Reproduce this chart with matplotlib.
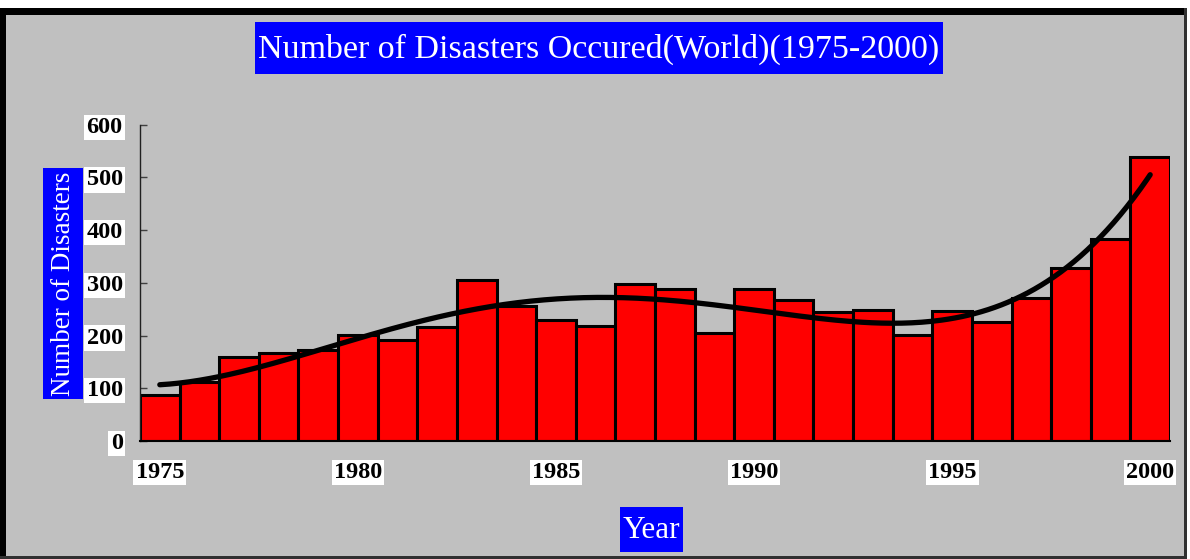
import numpy as np
import matplotlib
matplotlib.use("Agg")
import matplotlib.pyplot as plt
from matplotlib.patches import Rectangle

# ---- data ----
years = list(range(1975, 2001))
disasters = [87, 111, 159, 167, 172, 201, 192, 216, 305, 257,
             230, 219, 297, 289, 204, 289, 267, 245, 249, 201,
             247, 226, 272, 329, 383, 538]
yticks = [0, 100, 200, 300, 400, 500, 600]
xtick_years = [1975, 1980, 1985, 1990, 1995, 2000]
title = "Number of Disasters Occured(World)(1975-2000)"
ylabel = "Number of Disasters"
xlabel = "Year"
trend_degree = 4

W, H = 1190, 559
GRAY = "#C0C0C0"
BLUE = "#0000FF"
SERIF = ["Liberation Serif", "DejaVu Serif"]

fig = plt.figure(figsize=(W / 100, H / 100), dpi=100)
fig.patch.set_facecolor("white")

# background / frame axis in pixel coordinates
bg = fig.add_axes([0, 0, 1, 1], zorder=0)
bg.set_xlim(0, W)
bg.set_ylim(H, 0)
bg.axis("off")
bg.add_patch(Rectangle((0, 8), 1187, 551, facecolor=GRAY, edgecolor="none"))
bg.add_patch(Rectangle((0, 8), 1187, 7, facecolor="black", edgecolor="none"))
bg.add_patch(Rectangle((0, 8), 6, 551, facecolor="black", edgecolor="none"))
bg.add_patch(Rectangle((1184, 8), 3, 551, facecolor="#303030", edgecolor="none"))
bg.add_patch(Rectangle((0, 556), 1187, 3, facecolor="#303030", edgecolor="none"))

# title box
bg.add_patch(Rectangle((255, 22), 688, 52, facecolor=BLUE, edgecolor="none"))
bg.text(599, 49, title, color="white", fontsize=24.5, family=SERIF,
        ha="center", va="center")
# y label box
bg.add_patch(Rectangle((43, 168), 40, 231, facecolor=BLUE, edgecolor="none"))
bg.text(64, 283.5, ylabel, color="white", fontsize=19.5, family=SERIF,
        ha="center", va="center", rotation=90)
# x label box
bg.add_patch(Rectangle((620, 507), 63, 45, facecolor=BLUE, edgecolor="none"))
bg.text(651.5, 530, xlabel, color="white", fontsize=22.5, family=SERIF,
        ha="center", va="center")

# main axes
ax = fig.add_axes([140 / W, (H - 441) / H, 1030 / W, (441 - 124.7) / H], zorder=1)
ax.set_facecolor("none")
ax.bar(years, disasters, width=1.0, color="#FF0000", edgecolor="black",
       linewidth=2.2, zorder=2)

# polynomial trend line fitted to the data
xs = np.array(years, dtype=float) - years[0]
coef = np.polyfit(xs, np.array(disasters, dtype=float), trend_degree)
xf = np.linspace(xs[0], xs[-1], 300)
ax.plot(xf + years[0], np.polyval(coef, xf), color="black", linewidth=3.8,
        solid_capstyle="round", zorder=3)

ax.set_xlim(years[0] - 0.5, years[-1] + 0.5)
ax.set_ylim(yticks[0], yticks[-1])
ax.set_yticks(yticks)
ax.set_xticks(xtick_years)
ax.set_xticklabels([str(y) for y in xtick_years])

for s in ("top", "right"):
    ax.spines[s].set_visible(False)
ax.spines["left"].set_color("#202020")
ax.spines["left"].set_linewidth(1.0)
ax.spines["bottom"].set_color("black")
ax.spines["bottom"].set_linewidth(1.5)

ax.tick_params(axis="y", direction="in", length=5, width=1, color="#404040",
               pad=12.5)
ax.tick_params(axis="x", length=0, pad=15)

for lbl in ax.get_yticklabels() + ax.get_xticklabels():
    lbl.set_fontfamily(SERIF)
    lbl.set_fontweight("bold")
    lbl.set_fontsize(17.5)
    lbl.set_color("black")
    lbl.set_bbox(dict(facecolor="white", edgecolor="none", pad=1.5))

fig.savefig("out.png", dpi=100, facecolor=fig.get_facecolor())
